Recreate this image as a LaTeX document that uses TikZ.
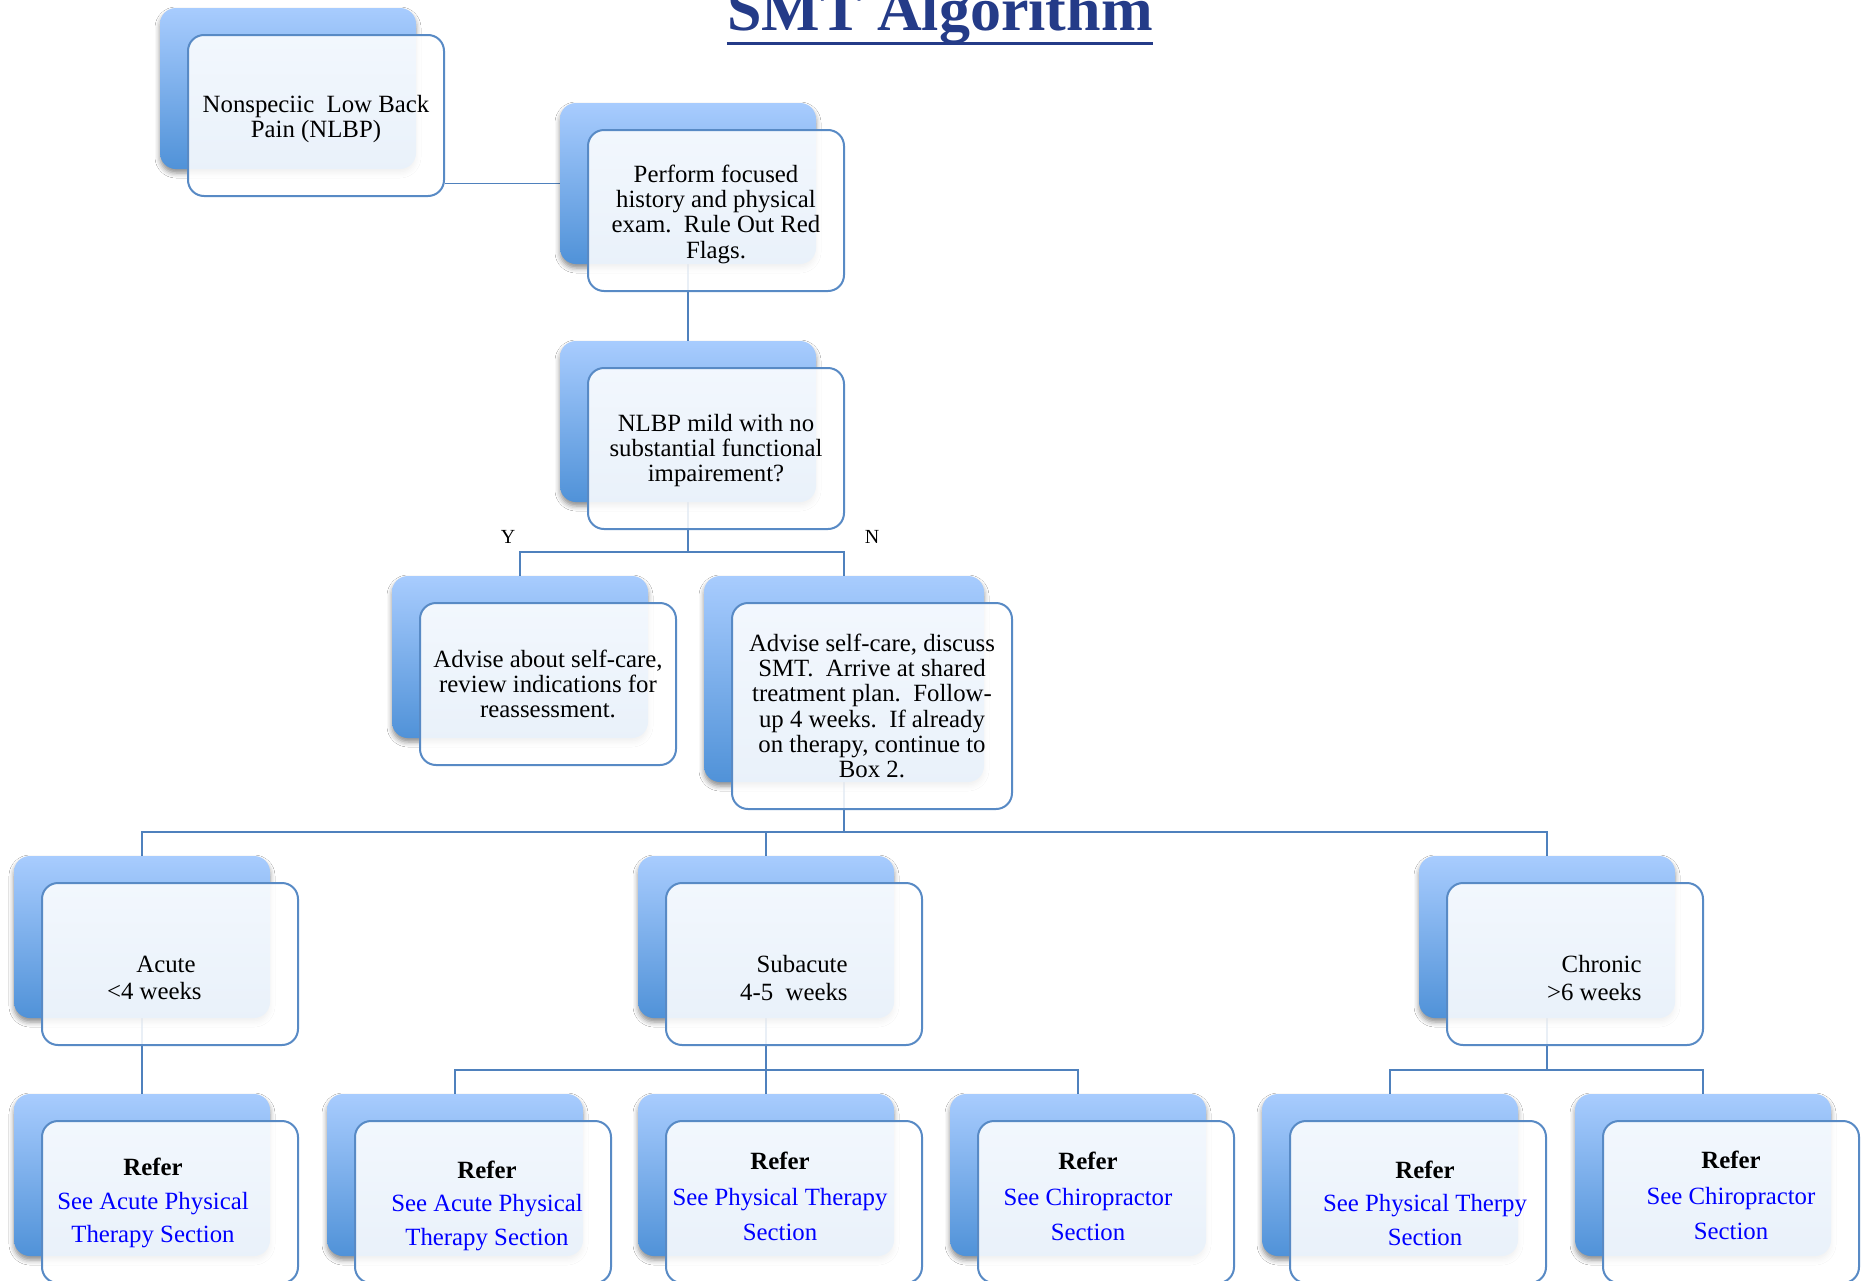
\documentclass[tikz,border=0pt]{standalone}
\usepackage{fontspec}
\setmainfont{Liberation Serif}
\usetikzlibrary{shadows.blur}

\definecolor{linkline}{RGB}{79,129,189}
\definecolor{frameline}{RGB}{88,138,197}
\definecolor{shadetop}{RGB}{168,204,254}
\definecolor{shadebot}{RGB}{80,146,216}
\definecolor{titleblue}{RGB}{36,59,136}
\definecolor{referblue}{RGB}{0,0,255}

\newcommand\boxfont{\fontsize{12.4pt}{12.65pt}\selectfont}
\newcommand\weekfont{\fontsize{12.4pt}{13.75pt}\selectfont}
\newcommand\referfont{\fontsize{12.4pt}{16.75pt}\selectfont}
\newcommand\referwidefont{\fontsize{12.4pt}{17.6pt}\selectfont}

% a gradient card with a translucent framed card laid over it, shifted down-right
% #1 name, #2/#3 top-left corner of the back card, #4/#5 size
\newcommand\boxpair[5]{%
  \node[backbox, minimum width={#4*0.5pt}, minimum height={#5*0.5pt}]
    (b#1) at ({#2+#4/2},{#3+#5/2}) {};
  \node[frontbox, minimum width={#4*0.5pt}, minimum height={#5*0.5pt}]
    (f#1) at ({#2+28+#4/2},{#3+27+#5/2}) {};
}

\pgfdeclarelayer{links}
\pgfsetlayers{links,main}

\begin{document}
\begin{tikzpicture}[x=0.5pt,y=-0.5pt,
  backbox/.style={rectangle, rounded corners=8pt, top color=shadetop,
    bottom color=shadebot, draw=none, inner sep=0pt,
    blur shadow={shadow xshift=0pt, shadow yshift=-2pt,
      shadow blur radius=2.5pt, shadow opacity=45}},
  frontbox/.style={rectangle, rounded corners=8pt, draw=frameline,
    line width=1pt, fill=white, fill opacity=0.88, inner sep=0pt},
  boxtext/.style={align=center, inner sep=0pt, font=\boxfont},
  weektext/.style={align=right, inner sep=0pt, font=\weekfont, anchor=east},
  refertext/.style={align=center, inner sep=0pt, font=\referfont},
  referwide/.style={align=center, inner sep=0pt, font=\referwidefont},
  yn/.style={inner sep=0pt, font=\fontsize{10pt}{12pt}\selectfont},
  link/.style={draw=linkline, line width=0.9pt}]

\useasboundingbox (0,0) rectangle (1862,1280);

% title
\node[anchor=base, inner sep=0pt, text=titleblue,
  font=\fontsize{31pt}{31pt}\selectfont\bfseries] (title) at (940,30) {SMT Algorithm};
\draw[titleblue, line width=1.5pt]
  ([yshift=-6.5pt]title.base west) -- ([yshift=-6.5pt]title.base east);

% cards
\boxpair{A}{160}{8}{256}{161}
\boxpair{B}{560}{103}{256}{161}
\boxpair{C}{560}{341}{256}{161}
\boxpair{D}{392}{576}{256}{162}
\boxpair{E}{704}{576}{280}{206}
\boxpair{F}{14}{856}{256}{162}
\boxpair{G}{638}{856}{256}{162}
\boxpair{H}{1419}{856}{256}{162}
\boxpair{R1}{14}{1094}{256}{162}
\boxpair{R2}{327}{1094}{256}{162}
\boxpair{R3}{638}{1094}{256}{162}
\boxpair{R4}{950}{1094}{256}{162}
\boxpair{R5}{1262}{1094}{256}{162}
\boxpair{R6}{1575}{1094}{256}{162}

% card texts
\node[boxtext] (tA) at (316,119) {Nonspeciic\ \ Low Back\\Pain (NLBP)};
\node[boxtext] (tB) at (716,214) {Perform focused\\history and physical\\exam.\ \ Rule Out Red\\Flags.};
\node[boxtext] (tC) at (716,450.5) {NLBP mild with no\\substantial functional\\impairement?};
\node[boxtext] (tD) at (548,684) {Advise about self-care,\\review indications for\\reassessment.};
\node[boxtext] (tE) at (872,706) {Advise self-care, discuss\\SMT.\ \ Arrive at shared\\treatment plan.\ \ Follow-\\up 4 weeks.\ \ If already\\on therapy, continue to\\Box 2.};

% duration labels
\node[weektext] (tF) at (202,978) {\mbox{Acute\hspace{3pt}}\\<4 weeks};
\node[weektext] (tG) at (848,978) {Subacute\\4-5\ \ weeks};
\node[weektext] (tH) at (1642,978) {Chronic\\>6 weeks};

% referral labels
\node[refertext] (tR1) at (153,1203) {\textbf{Refer}\\\textcolor{referblue}{See Acute Physical}\\\textcolor{referblue}{Therapy Section}};
\node[refertext] (tR2) at (487,1205.5) {\textbf{Refer}\\\textcolor{referblue}{See Acute Physical}\\\textcolor{referblue}{Therapy Section}};
\node[referwide] (tR3) at (780,1196.5) {\textbf{Refer}\\\textcolor{referblue}{See Physical Therapy}\\\textcolor{referblue}{Section}};
\node[referwide] (tR4) at (1088,1196.5) {\textbf{Refer}\\\textcolor{referblue}{See Chiropractor}\\\textcolor{referblue}{Section}};
\node[refertext] (tR5) at (1425,1203) {\textbf{Refer}\\\textcolor{referblue}{See Physical Therpy}\\\textcolor{referblue}{Section}};
\node[referwide] (tR6) at (1731,1195.5) {\textbf{Refer}\\\textcolor{referblue}{See Chiropractor}\\\textcolor{referblue}{Section}};

% branch labels
\node[yn] (yes) at (508,537) {Y};
\node[yn] (no) at (872,537) {N};

% connectors, kept underneath the cards
\begin{pgfonlayer}{links}
\fill[white] (0,0) rectangle (1862,1280);
\draw[link] (fA.east |- bB.west) -- (bB.west);
\draw[link] (bB.center) -- (bC.center);
\coordinate (jC) at (688,552);
\draw[link] (bC.center) -- (jC);
\draw[link] (bD.center) |- (jC) -| (bE.center);
\coordinate (jE) at (844,832);
\draw[link] (bE.center) -- (jE);
\draw[link] (bF.center) |- (jE) -| (bH.center);
\draw[link] (jE) -| (bG.center);
\draw[link] (bF.center) -- (bR1.center);
\coordinate (jG) at (766,1070);
\draw[link] (bG.center) -- (jG);
\draw[link] (bR2.center) |- (jG) -| (bR4.center);
\draw[link] (jG) -- (bR3.center);
\coordinate (jH) at (1547,1070);
\draw[link] (bH.center) -- (jH);
\draw[link] (bR5.center) |- (jH) -| (bR6.center);
\end{pgfonlayer}

\end{tikzpicture}
\end{document}
